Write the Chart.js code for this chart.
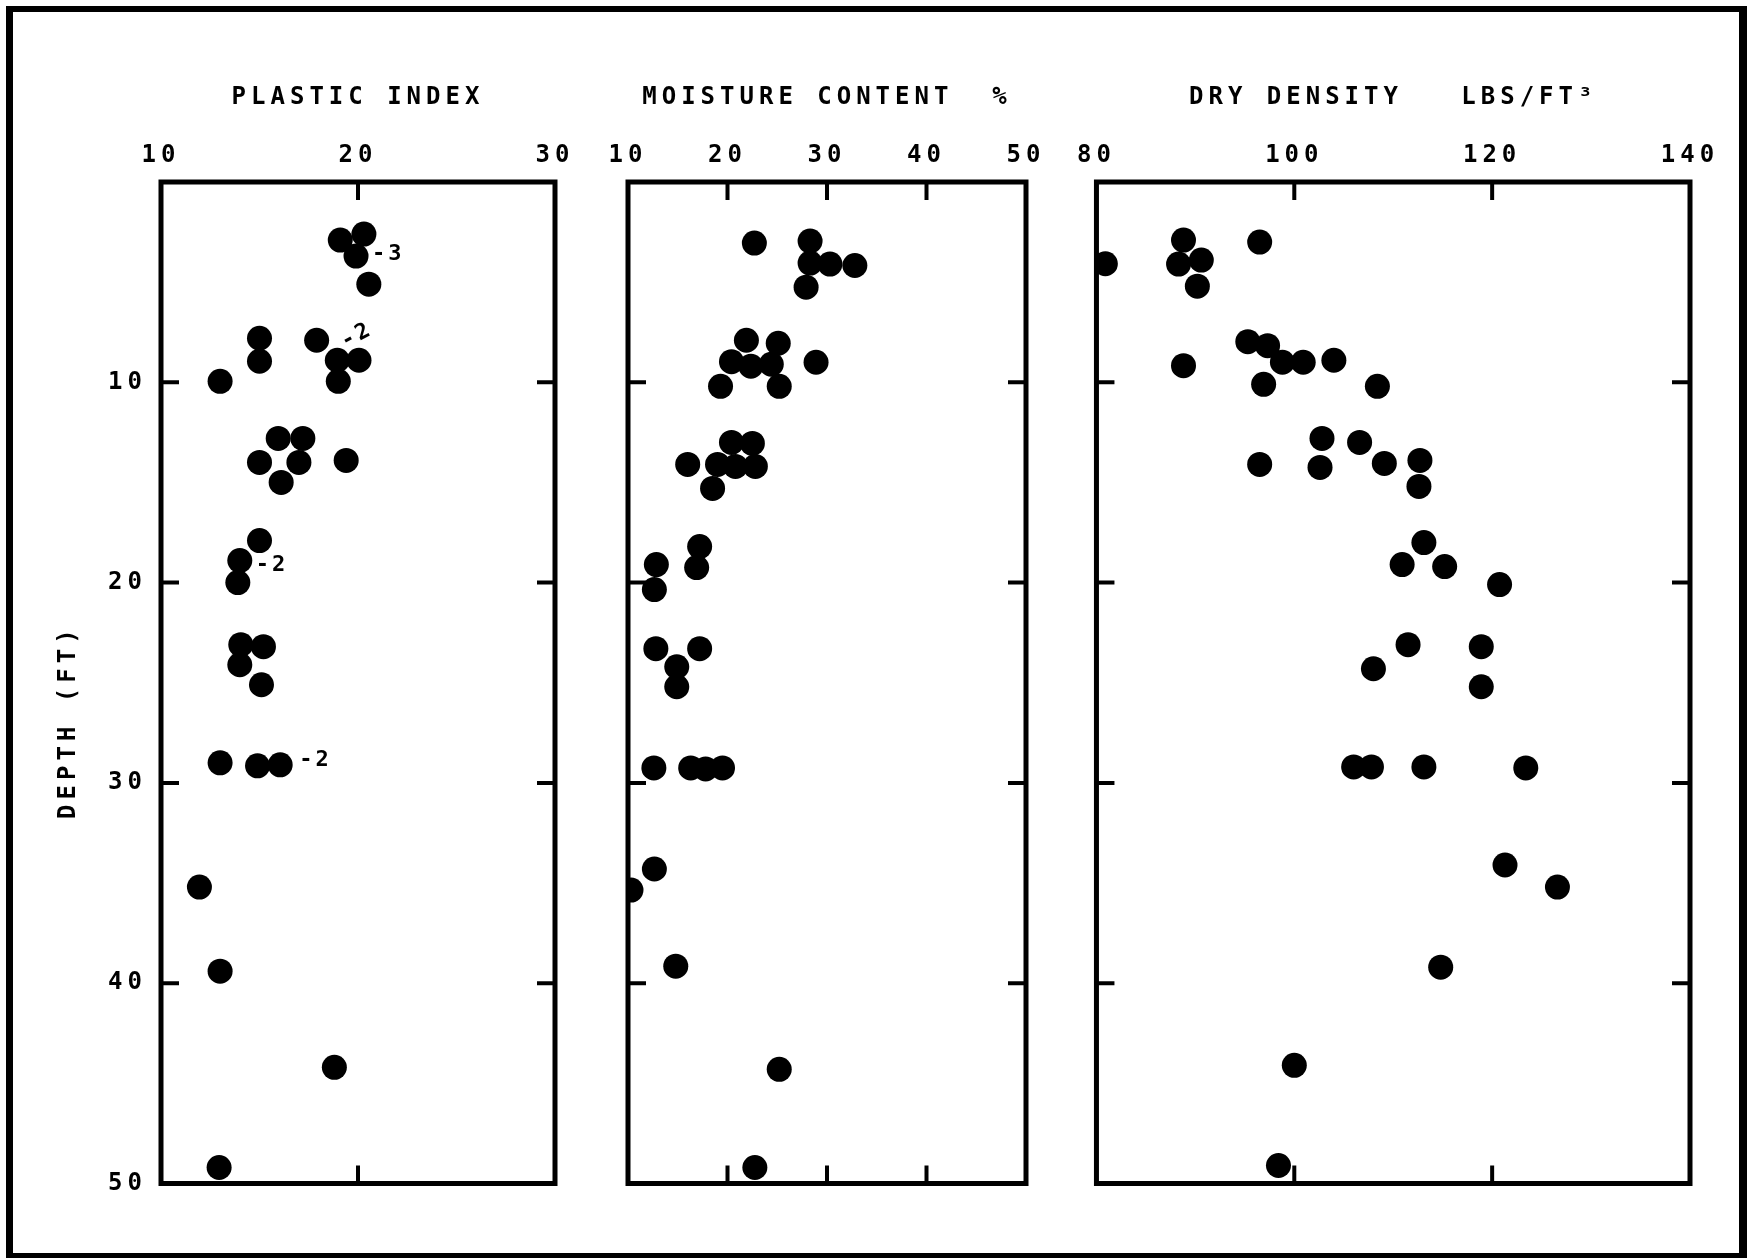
<!DOCTYPE html>
<html>
<head>
<meta charset="utf-8">
<script src="https://cdn.jsdelivr.net/npm/chart.js@4.4.1/dist/chart.umd.min.js"></script>
<style>
  html, body { margin: 0; padding: 0; background: #fff; }
  body { width: 1750px; height: 1258px; position: relative; overflow: hidden; }
  #frame {
    position: absolute; left: 6px; top: 6px; width: 1741px; height: 1252px;
    box-sizing: border-box; border-style: solid; border-color: #000;
    border-width: 6px 8px 5px 7px;
  }
  canvas { position: absolute; top: 0; }
</style>
</head>
<body>
<div id="frame"></div>
<canvas id="pi" width="600" height="1258" style="left:0px"></canvas>
<canvas id="mc" width="470" height="1258" style="left:595px"></canvas>
<canvas id="dd" width="685" height="1258" style="left:1065px"></canvas>
<script>
// depth (ft) and value for each sample, one pair of arrays per panel
const piDepth = [2.9, 2.6, 3.7, 5.1, 7.8, 7.9, 8.95, 8.9, 8.9, 9.95, 9.95, 12.8, 12.8, 14.0, 14.0, 13.9,
  15.0, 17.9, 18.9, 20.0, 23.1, 23.2, 24.1, 25.1, 29.0, 29.15, 29.1, 35.2, 39.4, 44.2, 49.2];
const piValue = [19.1, 20.3, 19.9, 20.55, 15.0, 17.9, 15.0, 18.95, 20.05, 19.0, 13.0, 15.95, 17.2, 15.0, 17.0, 19.4,
  16.1, 15.0, 14.0, 13.9, 14.05, 15.2, 14.0, 15.1, 13.0, 14.9, 16.05, 11.95, 13.0, 18.8, 12.95];

const mcDepth = [3.05, 2.95, 4.05, 4.1, 4.17, 5.25, 7.9, 8.05, 8.97, 9.2, 9.1, 9.0, 10.2, 10.2, 13.0, 13.05,
  14.1, 14.1, 14.2, 14.2, 15.3, 18.2, 19.25, 19.1, 20.35, 23.3, 23.3, 24.2, 25.2, 29.25, 29.25, 29.3, 29.25,
  34.3, 35.35, 39.15, 44.3, 49.2];
const mcValue = [22.7, 28.3, 28.3, 30.3, 32.8, 27.9, 21.9, 25.1, 20.4, 22.35, 24.4, 28.9, 19.3, 25.2, 20.4, 22.5,
  16.0, 19.0, 20.8, 22.8, 18.5, 17.2, 16.9, 12.85, 12.65, 12.8, 17.2, 14.9, 14.9, 12.6, 16.3, 17.8, 19.5,
  12.65, 10.3, 14.8, 25.2, 22.75];

const ddDepth = [4.08, 2.9, 4.1, 3.9, 5.2, 3.0, 7.97, 8.17, 9.0, 9.0, 8.9, 9.17, 10.1, 10.2, 12.8, 13.0,
  14.1, 14.25, 14.05, 13.9, 15.2, 18.0, 19.1, 19.2, 20.1, 23.1, 23.2, 24.3, 25.2, 29.2, 29.2, 29.2, 29.25,
  34.1, 35.2, 39.2, 44.1, 49.1];
const ddValue = [80.9, 88.8, 88.3, 90.6, 90.2, 96.5, 95.3, 97.3, 98.8, 100.9, 104.0, 88.8, 96.9, 108.4, 102.8, 106.6,
  96.5, 102.6, 109.1, 112.7, 112.6, 113.1, 110.9, 115.2, 120.75, 111.5, 118.9, 108.0, 118.9, 106.0, 107.8, 113.1, 123.4,
  121.3, 126.6, 114.8, 100.0, 98.4];

// tick labels
const piTicks = [10, 20, 30];
const mcTicks = [10, 20, 30, 40, 50];
const ddTicks = [80, 100, 120, 140];
const depthTicks = [0, 10, 20, 30, 40, 50];

const panelTitles = ['PLASTIC INDEX', 'MOISTURE CONTENT  %', 'DRY DENSITY   LBS/FT\u00B3'];
const depthTitle = 'DEPTH (FT)    ';

// number of samples written next to some plastic index points
const noteText = ['-3', '-2', '-2', '-2'];
const noteValue = [19.9, 17.9, 14.0, 16.05];
const noteDepth = [3.7, 7.9, 18.9, 29.1];
// label offsets from the point (px) and tilt
const noteStyle = [
  { dx: 16, dy: -2, angle: 0 },
  { dx: 26, dy: 3, angle: -28 },
  { dx: 16, dy: 5, angle: 0 },
  { dx: 19, dy: -5, angle: 0 }
];

Chart.defaults.font.family = "'DejaVu Sans Mono', monospace";
Chart.defaults.font.size = 24;
Chart.defaults.font.weight = 'bold';
Chart.defaults.color = '#000';

const SPACING = '5px';
const TICK_LEN = 18;

// box around the plot area, inward tick marks, sample-count notes
const panelPlugin = {
  id: 'panel',
  beforeUpdate(chart) { chart.ctx.letterSpacing = SPACING; },
  beforeDraw(chart) { chart.ctx.letterSpacing = SPACING; },
  beforeDatasetsDraw(chart) {
    const {ctx, chartArea: a, scales: {x, y}} = chart;
    ctx.save();
    ctx.strokeStyle = '#000';
    ctx.lineWidth = 5;
    ctx.strokeRect(a.left, a.top, a.width, a.height);
    ctx.lineWidth = 4;
    ctx.beginPath();
    x.ticks.forEach(t => {
      if (t.value <= x.min || t.value >= x.max) return;
      const px = x.getPixelForValue(t.value);
      ctx.moveTo(px, a.top); ctx.lineTo(px, a.top + TICK_LEN);
      ctx.moveTo(px, a.bottom); ctx.lineTo(px, a.bottom - TICK_LEN);
    });
    y.ticks.forEach(t => {
      if (t.value <= y.min || t.value >= y.max) return;
      const py = y.getPixelForValue(t.value);
      ctx.moveTo(a.left, py); ctx.lineTo(a.left + TICK_LEN, py);
      ctx.moveTo(a.right, py); ctx.lineTo(a.right - TICK_LEN, py);
    });
    ctx.stroke();
    ctx.restore();
  },
  afterDatasetsDraw(chart, args, opts) {
    if (!opts.notes) return;
    const {ctx, scales: {x, y}} = chart;
    ctx.save();
    ctx.fillStyle = '#000';
    ctx.font = "bold 22px 'DejaVu Sans Mono', monospace";
    ctx.letterSpacing = '3px';
    ctx.textAlign = 'left';
    ctx.textBaseline = 'middle';
    opts.notes.text.forEach((txt, i) => {
      const s = noteStyle[i];
      ctx.save();
      ctx.translate(x.getPixelForValue(opts.notes.value[i]) + s.dx, y.getPixelForValue(opts.notes.depth[i]) + s.dy);
      ctx.rotate(s.angle * Math.PI / 180);
      ctx.fillText(txt, 0, 0);
      ctx.restore();
    });
    ctx.restore();
  }
};

function makePanel(id, values, depths, ticks, title, yWidth, padRight, showDepth, notes) {
  return new Chart(document.getElementById(id), {
    type: 'scatter',
    data: {
      datasets: [{
        data: values.map((v, i) => ({x: v, y: depths[i]})),
        backgroundColor: '#000',
        borderWidth: 0,
        pointRadius: 12.5,
        pointHoverRadius: 12.5
      }]
    },
    options: {
      responsive: false,
      animation: false,
      devicePixelRatio: 1,
      layout: { padding: { left: 0, top: 0, right: padRight, bottom: 74.5 } },
      plugins: {
        legend: { display: false },
        tooltip: { enabled: false },
        panel: { notes }
      },
      scales: {
        x: {
          type: 'linear',
          position: 'top',
          min: ticks[0],
          max: ticks[ticks.length - 1],
          ticks: { stepSize: ticks[1] - ticks[0], autoSkip: false, maxRotation: 0, padding: 12 },
          grid: { display: false, drawTicks: false },
          border: { display: false },
          title: { display: true, text: title, padding: { top: 83, bottom: 0 } },
          afterFit: s => { s.height = 182; }
        },
        y: {
          type: 'linear',
          reverse: true,
          min: depthTicks[0],
          max: depthTicks[depthTicks.length - 1],
          ticks: {
            stepSize: depthTicks[1] - depthTicks[0],
            display: showDepth,
            padding: 14,
            callback: v => v === 0 ? '' : v
          },
          grid: { display: false, drawTicks: false },
          border: { display: false },
          title: { display: showDepth, text: depthTitle, padding: { top: 54, bottom: 0 } },
          afterFit: s => { s.width = yWidth; }
        }
      }
    },
    plugins: [panelPlugin]
  });
}

makePanel('pi', piValue, piDepth, piTicks, panelTitles[0], 161, 45, true,
  { text: noteText, value: noteValue, depth: noteDepth });
makePanel('mc', mcValue, mcDepth, mcTicks, panelTitles[1], 33, 39, false, null);
makePanel('dd', ddValue, ddDepth, ddTicks, panelTitles[2], 29, 60, false, null);
</script>
</body>
</html>
